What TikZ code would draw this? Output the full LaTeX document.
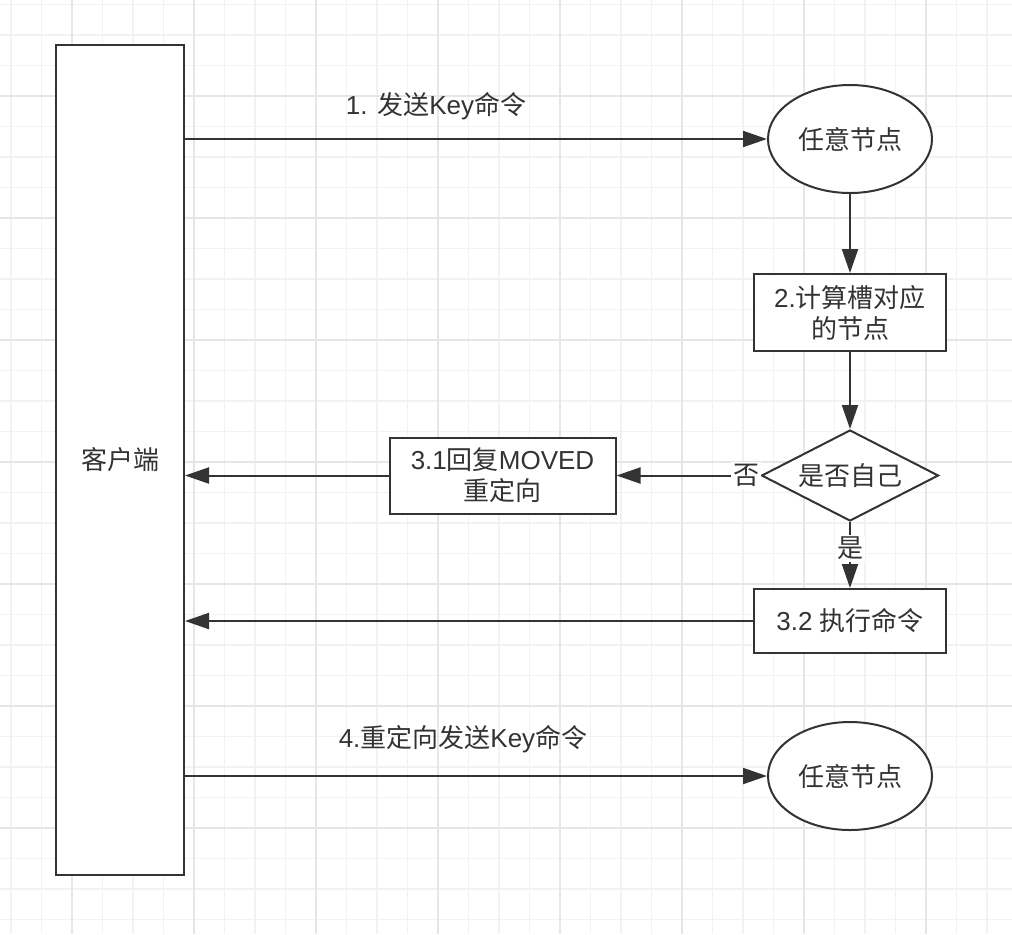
\documentclass[tikz,border=0pt]{standalone}
\usepackage{fontspec}
\setmainfont{Liberation Sans}
\newfontfamily\cjk{Noto Sans CJK SC}
\usepackage{tikz}
\usetikzlibrary{positioning,arrows.meta,shapes.geometric}
\definecolor{traco}{HTML}{333333}
\definecolor{gradefina}{HTML}{F2F2F2}
\definecolor{gradeforte}{HTML}{E6E6E6}

\begin{document}
\begin{tikzpicture}[x=0.5pt,y=-0.5pt,
  caixa/.style={rectangle,draw=traco,line width=1pt,fill=white,text=traco,align=center,font=\fontsize{13}{15.5}\selectfont,inner sep=2pt},
  oval/.style={ellipse,draw=traco,line width=1pt,fill=white,text=traco,font=\fontsize{13}{15.5}\selectfont,minimum width=82pt,minimum height=54pt,inner sep=0pt},
  losango/.style={diamond,aspect=1.94,draw=traco,line width=1pt,fill=white,text=traco,font=\fontsize{13}{15.5}\selectfont,minimum width=88.5pt,minimum height=45.5pt,inner sep=0pt},
  seta/.style={-{Triangle[length=12pt,width=8pt]},line width=1pt,traco},
  rotulo/.style={text=traco,font=\fontsize{13}{15.5}\selectfont,inner sep=1pt},
  rotulobranco/.style={rotulo,fill=white}]
\useasboundingbox (0,0) rectangle (1012,934);
\fill[white] (0,0) rectangle (1012,934);
% grade de fundo
\foreach \k in {-2,...,30} \draw[gradefina,line width=0.8pt] (72+30.5*\k,0) -- (72+30.5*\k,934);
\foreach \k in {-3,...,27} \draw[gradefina,line width=0.8pt] (0,96+30.5*\k) -- (1012,96+30.5*\k);
\foreach \k in {0,...,7} \draw[gradeforte,line width=0.9pt] (72+122*\k,0) -- (72+122*\k,934);
\foreach \k in {0,...,6} \draw[gradeforte,line width=0.9pt] (0,96+122*\k) -- (1012,96+122*\k);
% nos
\node[caixa,minimum width=64pt,minimum height=415pt] (cl) at (120,460) {{\cjk 客户端}};
\node[oval] (n1) at (850,139) {{\cjk 任意节点}};
\node[caixa,minimum width=96pt,minimum height=38.5pt,below=39.5pt of n1] (calc) {2.{\cjk 计算槽对应}\\{\cjk 的节点}};
\node[losango,below=38.5pt of calc] (eu) {{\cjk 是否自己}};
\node[caixa,minimum width=113pt,minimum height=38pt,left=72pt of eu] (moved) {3.1{\cjk 回复}MOVED\\{\cjk 重定向}};
\node[caixa,minimum width=96pt,minimum height=32pt,below=33pt of eu] (exec) {3.2 {\cjk 执行命令}};
\node[oval,below=33.5pt of exec] (n2) {{\cjk 任意节点}};
% ligacoes
\draw[seta] (n1.west -| cl.east) -- (n1.west);
\node[rotulo] (l1) at (436,106) {1. {\cjk 发送}Key{\cjk 命令}};
\draw[seta] (n1) -- (calc);
\draw[seta] (calc) -- (eu);
\draw[seta] (eu.west) -- node[rotulobranco,pos=0.1] (nao) {{\cjk 否}} (moved.east);
\draw[seta] (moved.west) -- (moved.west -| cl.east);
\draw[seta] (eu.south) -- node[rotulobranco,pos=0.4] (sim) {{\cjk 是}} (exec.north);
\draw[seta] (exec.west) -- (exec.west -| cl.east);
\draw[seta] (n2.west -| cl.east) -- (n2.west);
\node[rotulo] (l4) at (463,739) {4.{\cjk 重定向发送}Key{\cjk 命令}};
\end{tikzpicture}
\end{document}
